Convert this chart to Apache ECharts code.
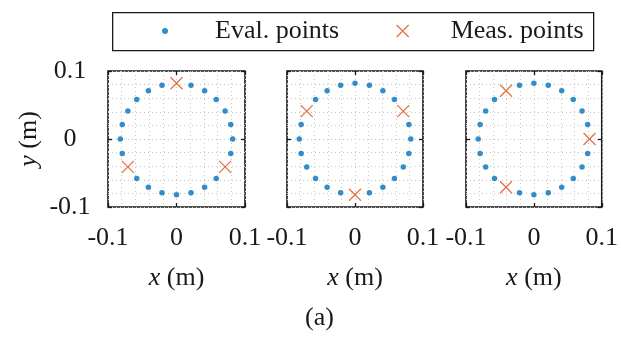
<!DOCTYPE html>
<html>
<head>
<meta charset="utf-8">
<script src="https://cdn.jsdelivr.net/npm/echarts@6/dist/echarts.min.js"></script>
<style>
  html, body { margin: 0; padding: 0; background: #fff; }
  #chart { width: 621px; height: 338px; }
</style>
</head>
<body>
<div id="chart"></div>
<script>
// evaluation ring, 24 positions every 15 degrees (r ~ 0.082 m)
var ringX = [0.082, 0.0792, 0.0710, 0.0580, 0.0410, 0.0212, 0, -0.0212, -0.0410, -0.0580, -0.0710, -0.0792,
             -0.082, -0.0792, -0.0710, -0.0580, -0.0410, -0.0212, 0, 0.0212, 0.0410, 0.0580, 0.0710, 0.0792];
var ringY = [0, 0.0212, 0.0410, 0.0580, 0.0710, 0.0792, 0.082, 0.0792, 0.0710, 0.0580, 0.0410, 0.0212,
             0, -0.0212, -0.0410, -0.0580, -0.0710, -0.0792, -0.082, -0.0792, -0.0710, -0.0580, -0.0410, -0.0212];

// measurement points for each panel
var measA = [[0, 0.082], [-0.0710, -0.0410], [0.0710, -0.0410]];
var measB = [[0.0710, 0.0410], [-0.0710, 0.0410], [0, -0.082]];
var measC = [[0.082, 0], [-0.0410, 0.0710], [-0.0410, -0.0710]];
var panels = [measA, measB, measC];

var tickLabels = ['-0.1', '0', '0.1'];
var legendNames = ['Eval. points', 'Meas. points'];

var font = "'Liberation Serif', 'DejaVu Serif', serif";
var fs = 26;
var ink = '#1a1a1a';
var blue = '#0072BD';
var orange = '#D95319';
var crossPath = 'path://M0 0L10 10M10 0L0 10';

// 各面板位置
var boxes = [
  {left: 108, width: 137},
  {left: 287, width: 136},
  {left: 466, width: 137}
];

function fmt(v) {
  if (Math.abs(v) < 1e-9) return tickLabels[1];
  return v < 0 ? tickLabels[0] : tickLabels[2];
}

var tick = {show: true, inside: true, length: 4, lineStyle: {color: ink, width: 1.3}};
var italicName = {fontFamily: font, fontSize: fs, color: ink,
  rich: {i: {fontStyle: 'italic', fontFamily: font, fontSize: fs, color: ink}}};

var grids = [], xAxes = [], yAxes = [], series = [];

boxes.forEach(function (b, i) {
  grids.push({
    left: b.left, top: 71, width: b.width, height: 136,
    show: true, borderColor: ink, borderWidth: 1.6, backgroundColor: '#fff'
  });

  var gridLines = {
    splitLine: {show: true, lineStyle: {type: [1, 3], color: '#c8c8c8', width: 1}},
    minorTick: {show: false, splitNumber: 5},
    minorSplitLine: {show: true, lineStyle: {type: [1, 3], color: '#c8c8c8', width: 1}}
  };

  // bottom x axis with labels
  xAxes.push(Object.assign({
    gridIndex: i, type: 'value', min: -0.1, max: 0.1, interval: 0.1, position: 'bottom',
    axisLine: {show: false, onZero: false},
    axisTick: tick,
    axisLabel: {show: true, margin: 18, fontFamily: font, fontSize: fs, color: ink, formatter: fmt},
    name: '{i|x} (m)', nameLocation: 'middle', nameGap: 58,
    nameTextStyle: italicName
  }, gridLines));
  // top mirror
  xAxes.push({
    gridIndex: i, type: 'value', min: -0.1, max: 0.1, interval: 0.1, position: 'top',
    axisLine: {show: false, onZero: false}, axisLabel: {show: false}, splitLine: {show: false},
    axisTick: tick
  });

  var yLeft = Object.assign({
    gridIndex: i, type: 'value', min: -0.1, max: 0.1, interval: 0.1, position: 'left',
    axisLine: {show: false, onZero: false},
    axisTick: tick,
    axisLabel: {show: i === 0, margin: 38, align: 'center', fontFamily: font, fontSize: fs, color: ink, formatter: fmt}
  }, gridLines);
  if (i === 0) {
    yLeft.name = '{i|y} (m)';
    yLeft.nameLocation = 'middle';
    yLeft.nameGap = 66;
    yLeft.nameTextStyle = italicName;
  }
  yAxes.push(yLeft);
  yAxes.push({
    gridIndex: i, type: 'value', min: -0.1, max: 0.1, interval: 0.1, position: 'right',
    axisLine: {show: false, onZero: false}, axisLabel: {show: false}, splitLine: {show: false},
    axisTick: tick
  });

  var meas = panels[i];
  var evalPts = [];
  for (var k = 0; k < ringX.length; k++) {
    var hit = meas.some(function (m) {
      return Math.abs(m[0] - ringX[k]) < 1e-6 && Math.abs(m[1] - ringY[k]) < 1e-6;
    });
    if (!hit) evalPts.push([ringX[k], ringY[k]]);
  }

  series.push({
    name: legendNames[0], type: 'scatter', xAxisIndex: i * 2, yAxisIndex: i * 2,
    data: evalPts, symbol: 'circle', symbolSize: 5.5,
    itemStyle: {color: blue}, silent: true
  });
  series.push({
    name: legendNames[1], type: 'scatter', xAxisIndex: i * 2, yAxisIndex: i * 2,
    data: meas, symbol: crossPath, symbolSize: 12,
    itemStyle: {color: orange, borderColor: orange, borderWidth: 1.3}, silent: true
  });
});

var chart = echarts.init(document.getElementById('chart'), null, {renderer: 'canvas'});
chart.setOption({
  animation: false,
  backgroundColor: '#fff',
  title: {
    text: '(a)', left: 305, top: 305, padding: 0,
    textStyle: {fontFamily: font, fontSize: fs, fontWeight: 'normal', color: ink}
  },
  graphic: [{
    type: 'rect', left: 112, top: 12, z: -1,
    shape: {width: 481, height: 38},
    style: {fill: '#fff', stroke: ink, lineWidth: 1.3}
  }],
  // 图例: 两个独立的legend, 图标大小不同
  legend: [
    {
      data: [legendNames[0]], left: 162, top: 18, padding: 0,
      itemWidth: 6, itemHeight: 6,
      formatter: '{gap|}{name}',
      textStyle: {fontFamily: font, fontSize: fs, color: ink,
        rich: {gap: {width: 42}, name: {fontFamily: font, fontSize: fs, color: ink}}}
    },
    {
      data: [legendNames[1]], left: 396, top: 18, padding: 0,
      itemWidth: 12, itemHeight: 12,
      itemStyle: {borderWidth: 1.3},
      formatter: '{gap|}{name}',
      textStyle: {fontFamily: font, fontSize: fs, color: ink,
        rich: {gap: {width: 37}, name: {fontFamily: font, fontSize: fs, color: ink}}}
    }
  ],
  grid: grids,
  xAxis: xAxes,
  yAxis: yAxes,
  series: series
});
</script>
</body>
</html>
